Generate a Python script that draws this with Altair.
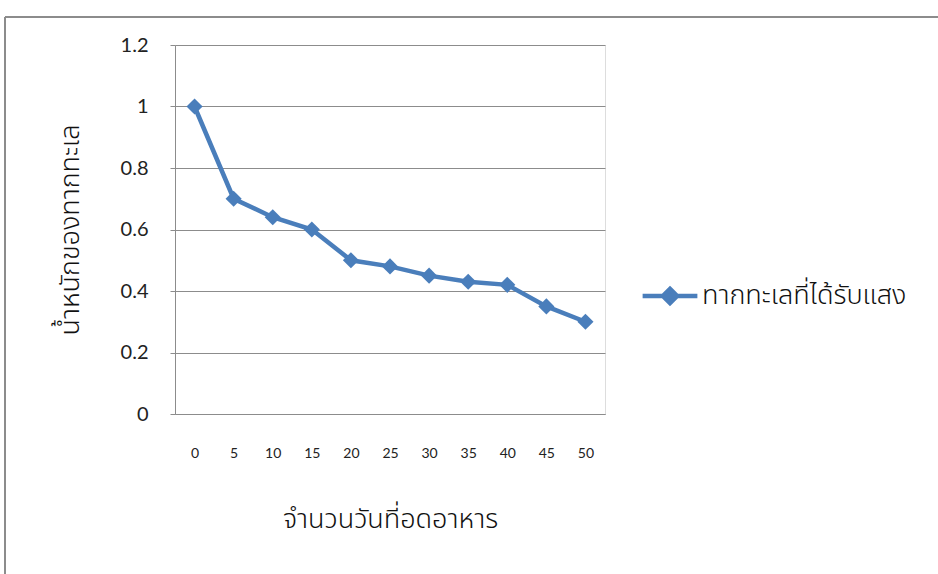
import altair as alt
import pandas as pd

# Days without food and the sea slug's weight
days = [0, 5, 10, 15, 20, 25, 30, 35, 40, 45, 50]
weights = [1.0, 0.7, 0.64, 0.6, 0.5, 0.48, 0.45, 0.43, 0.42, 0.35, 0.3]
series_name = "ทากทะเลที่ได้รับแสง"

x_title = "จำนวนวันที่อดอาหาร"
y_title = "น้ำหนักของทากทะเล"
y_ticks = [0, 0.2, 0.4, 0.6, 0.8, 1.0, 1.2]

df = pd.DataFrame({"day": days, "weight": weights, "series": [series_name] * len(days)})

BLUE = "#4A7EBB"
GRID = "#8C8C8C"
THAI_FONT = "Noto Sans Thai, Noto Sans, DejaVu Sans, sans-serif"

# line-with-diamond legend glyph
legend_glyph = "M-1,0H1M0,-0.26L0.26,0L0,0.26L-0.26,0Z"

base = alt.Chart(df)

line = base.mark_line(
    color=BLUE, strokeWidth=4.5,
    point=alt.OverlayMarkDef(shape="diamond", size=260, filled=True, color=BLUE, opacity=1),
).encode(
    x=alt.X("day:O", sort=days, scale=alt.Scale(padding=0.5),
            axis=alt.Axis(title=x_title, labelAngle=0, ticks=False, domain=True,
                          domainColor=GRID, labelPadding=32, labelFontSize=14,
                          labelFont="Lato", labelColor="#222222",
                          titleFont=THAI_FONT, titleFontSize=27, titleFontWeight=300,
                          titlePadding=46, titleColor="#111111")),
    y=alt.Y("weight:Q", scale=alt.Scale(domain=[0, 1.2], nice=False),
            axis=alt.Axis(title=y_title, values=y_ticks, format="~g", grid=True,
                          gridColor=GRID, domainColor=GRID, tickColor=GRID, tickSize=5,
                          labelPadding=22, labelFontSize=20, labelFont="Lato",
                          labelColor="#222222",
                          titleFont=THAI_FONT, titleFontSize=27, titleFontWeight=300,
                          titlePadding=36, titleColor="#111111")),
    color=alt.Color("series:N", scale=alt.Scale(range=[BLUE]),
                    legend=alt.Legend(title=None, orient="none", legendX=465, legendY=221,
                                      symbolType=legend_glyph, symbolSize=3000,
                                      symbolStrokeWidth=4.5, symbolFillColor=BLUE,
                                      symbolStrokeColor=BLUE, labelFont=THAI_FONT,
                                      labelFontSize=27, labelFontWeight=300,
                                      labelColor="#111111",
                                      labelLimit=0, labelOffset=2)),
)

# outer chart frame (top and left edges)
frame_top = alt.Chart(df).mark_rule(color=GRID, strokeWidth=1.5, clip=False).encode(
    x=alt.value(-170), x2=alt.value(800), y=alt.value(-28)
)
frame_left = alt.Chart(df).mark_rule(color=GRID, strokeWidth=1.5, clip=False).encode(
    x=alt.value(-170), y=alt.value(-28), y2=alt.value(560)
)

chart = alt.layer(frame_top, frame_left, line).properties(
    width=430, height=369,
    autosize=alt.AutoSizeParams(type="none"),
    padding={"left": 175, "top": 45, "right": 333, "bottom": 160},
).configure_view(stroke=None).configure(background="white")

chart.save("out.html", embed_options={"renderer": "svg", "actions": False})
